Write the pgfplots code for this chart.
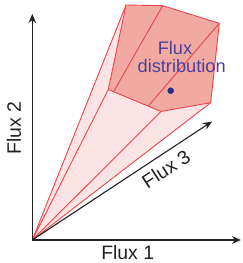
\documentclass[border=0pt]{standalone}
\usepackage{pgfplots}
\pgfplotsset{compat=1.18}
\usepackage{fontspec}
\setmainfont{Liberation Sans}
\usetikzlibrary{arrows.meta}
\definecolor{lightpink}{HTML}{FCE4E4}
\definecolor{salmon}{HTML}{F2A9A2}
\definecolor{edgered}{HTML}{E8464E}
\definecolor{txtblue}{HTML}{4B3F9C}
\definecolor{dotblue}{HTML}{2D2A8A}
\definecolor{axgray}{HTML}{222222}
\begin{document}
\begin{tikzpicture}
\begin{axis}[
  scale only axis, width=243bp, height=263bp,
  xmin=0, xmax=243, ymin=0, ymax=263,
  hide axis, clip=false,
]
\path (rel axis cs:0,0) rectangle (rel axis cs:1,1);
% light cone fill
\addplot[fill=lightpink, draw=none] coordinates {(32.3,23) (126,258) (162.7,257.3) (219.3,239.7) (210.7,160.3) (32.3,23)} --cycle;
% cone edges
\addplot[edgered, line width=0.9bp] coordinates {(32.3,23) (126,258)};
\addplot[edgered, line width=0.9bp] coordinates {(32.3,23) (108.3,173.5)};
\addplot[edgered, line width=0.9bp] coordinates {(32.3,23) (161,151.5)};
\addplot[edgered, line width=0.9bp] coordinates {(32.3,23) (210.7,160.3)};
% front face
\addplot[fill=salmon, draw=edgered, line width=0.9bp, line join=round] coordinates {(126,258) (162.7,257.3) (219.3,239.7) (210.7,160.3) (161,151.5) (108.3,173.5)} --cycle;
\addplot[edgered, line width=0.9bp] coordinates {(162.7,257.3) (114,172)};
\addplot[edgered, line width=0.9bp] coordinates {(219.3,239.7) (148.3,157)};
% axes
\addplot[axgray, line width=1.1bp, -{Stealth[length=9bp,width=7.5bp]}] coordinates {(32.3,23) (241,23)};
\addplot[axgray, line width=1.1bp, -{Stealth[length=9bp,width=7.5bp]}] coordinates {(32.3,23) (32.3,249)};
\addplot[axgray, line width=1.1bp, -{Stealth[length=9bp,width=7.5bp]}] coordinates {(32.3,23) (212,141.5)};
% flux distribution point
\addplot[only marks, mark=*, mark size=3bp, dotblue] coordinates {(170.7,172.3)};
\node[txtblue, font=\fontsize{18.3}{20}\selectfont, inner sep=0pt] at (axis cs:175,215) {Flux};
\node[txtblue, font=\fontsize{18.3}{20}\selectfont, inner sep=0pt] at (axis cs:181.7,197.3) {distribution};
\node[axgray, font=\fontsize{19.5}{21}\selectfont, inner sep=0pt] at (axis cs:127.7,10.2) {Flux 1};
\node[axgray, font=\fontsize{19.5}{21}\selectfont, inner sep=0pt, rotate=90] at (axis cs:14,134.7) {Flux 2};
\node[axgray, font=\fontsize{19.5}{21}\selectfont, inner sep=0pt, rotate=33.3] at (axis cs:166,94) {Flux 3};
\end{axis}
\end{tikzpicture}
\end{document}
